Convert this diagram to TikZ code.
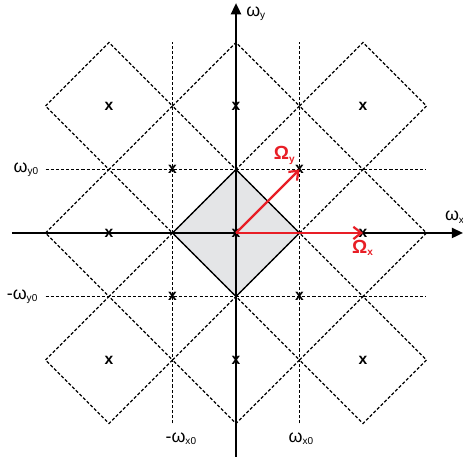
\documentclass[tikz,border=0pt]{standalone}
\usepackage{fontspec}
\setmainfont{Liberation Sans}
\usetikzlibrary{arrows.meta}
\definecolor{omegared}{RGB}{232,30,38}
\definecolor{cellgray}{RGB}{228,229,231}
\newcommand{\lowidx}[1]{\textsubscript{\fontsize{4.5}{5}\selectfont #1}}

\begin{document}
\begin{tikzpicture}[
  grid/.style={line width=0.55pt, dash pattern=on 1.4pt off 0.9pt},
  cell/.style={fill=cellgray, draw=black, line width=0.6pt},
  axis/.style={line width=0.9pt, -{Triangle[length=5pt, width=4.5pt]}},
  xmark/.style={font=\fontsize{7}{8}\selectfont\bfseries, inner sep=0pt},
  lbl/.style={font=\fontsize{8}{9}\selectfont, inner sep=1pt},
  vlbl/.style={font=\fontsize{8.5}{9}\selectfont\bfseries, text=omegared, inner sep=1pt},
  vec/.style={omegared, line width=1pt, -{Straight Barb[length=3.5pt, width=5.5pt]}},
]
\useasboundingbox (-3.717,-3.528) rectangle (3.575,3.669);

% base cell
\fill[cellgray] (-1,0) -- (0,1) -- (1,0) -- (0,-1) -- cycle;

% replicated cells
\foreach \i in {-2,0,2}
  \foreach \j in {-2,0,2}
    \draw[grid] (\i-1,\j) -- (\i,\j+1) -- (\i+1,\j) -- (\i,\j-1) -- cycle;
\foreach \k in {-1,1} {
  \draw[grid] (\k,-3) -- (\k,3);
  \draw[grid] (-3,\k) -- (3,\k);
}
\draw[cell, fill=none] (-1,0) -- (0,1) -- (1,0) -- (0,-1) -- cycle;

% axes
\coordinate (xl) at (-3.53,0);
\coordinate (xr) at (3.575,0);
\coordinate (yb) at (0,-3.53);
\coordinate (yt) at (0,3.62);
\draw[axis] (xl) -- (xr);
\draw[axis] (yb) -- (yt);
\node[lbl] (wx) at (3.45,0.25) {ω\lowidx{x}};
\node[lbl] (wy) at (0.32,3.45) {ω\lowidx{y}};

% sample points
\foreach \i/\j/\n in {-2/-2/a,-2/0/b,-2/2/c,-1/-1/d,-1/1/e,0/-2/f,0/0/o,0/2/g,1/-1/h,1/1/p,2/-2/i,2/0/q,2/2/j}
  \node[xmark] (\n) at (\i,\j) {x};

% tick labels
\node[lbl] (wy0) at (-3.3,1) {ω\lowidx{y0}};
\node[lbl] (mwy0) at (-3.36,-1) {-ω\lowidx{y0}};
\node[lbl] (mwx0) at (-0.86,-3.24) {-ω\lowidx{x0}};
\node[lbl] (wx0) at (1.03,-3.24) {ω\lowidx{x0}};

% sampling vectors
\draw[vec] (o.center) -- (p.center);
\draw[vec] (o.center) -- (q.center);
\node[vlbl] (Oy) at (0.77,1.22) {Ω\lowidx{y}};
\node[vlbl] (Ox) at (2.0,-0.24) {Ω\lowidx{x}};
\end{tikzpicture}
\end{document}
